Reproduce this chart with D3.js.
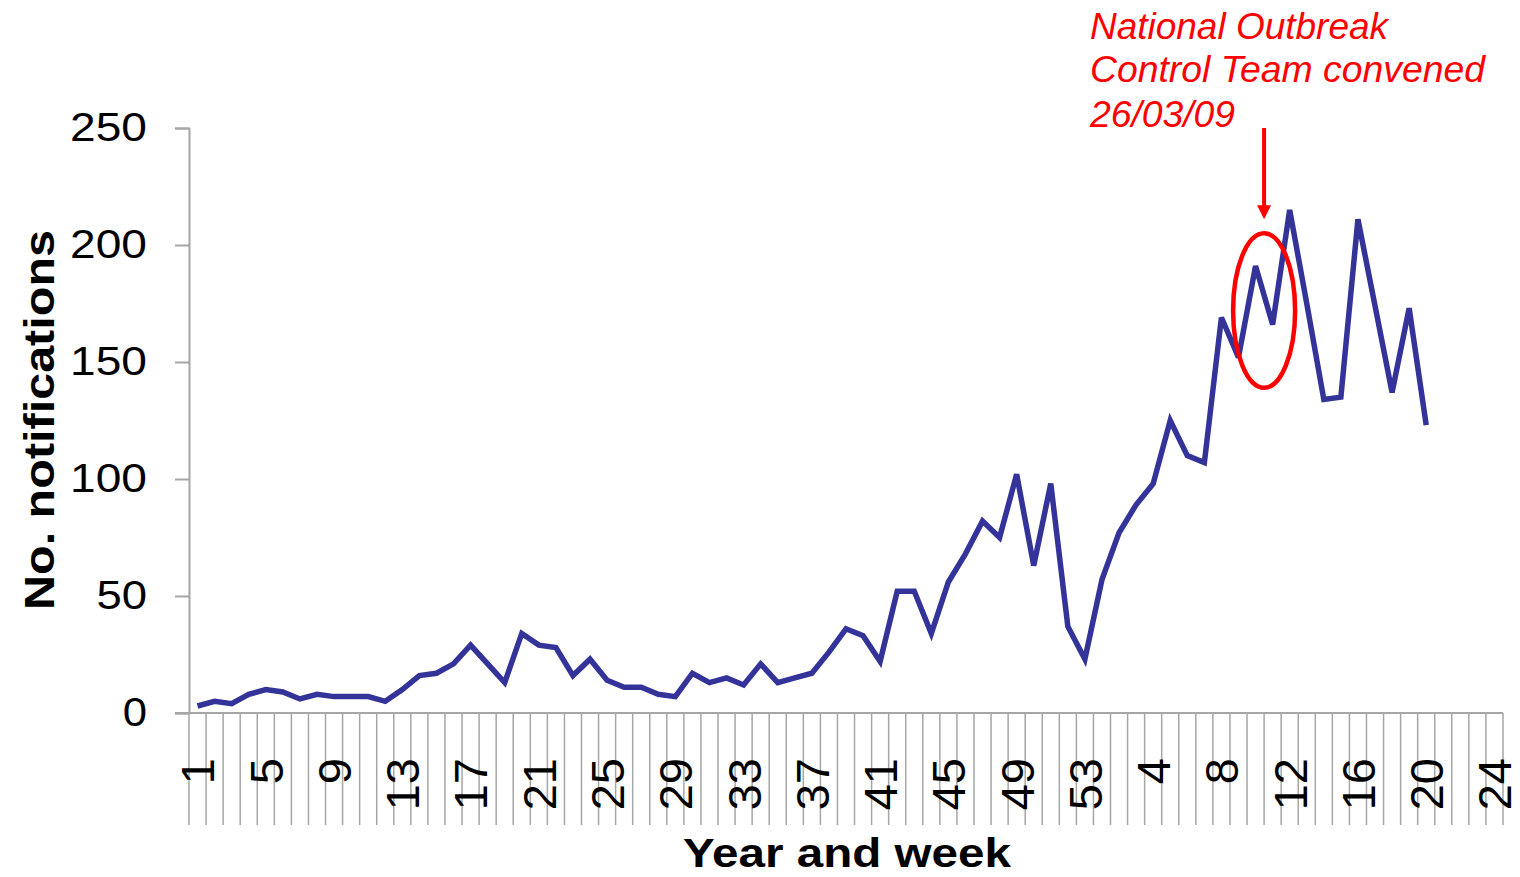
<!DOCTYPE html>
<html>
<head>
<meta charset="utf-8">
<script src="https://cdn.jsdelivr.net/npm/d3@7"></script>
<style>
  html, body { margin: 0; padding: 0; background: #fff; }
  svg { display: block; }
  text { font-family: Arial, "Liberation Sans", Helvetica, sans-serif; }
</style>
</head>
<body>
<svg id="chart" width="1520" height="877"></svg>
<script>
// ---- data ----
const weeks2008 = [1,2,3,4,5,6,7,8,9,10,11,12,13,14,15,16,17,18,19,20,21,22,23,24,25,26,27,28,29,30,31,32,33,34,35,36,37,38,39,40,41,42,43,44,45,46,47,48,49,50,51,52,53];
const weeks2009 = [1,2,3,4,5,6,7,8,9,10,11,12,13,14,15,16,17,18,19,20,21,22,23,24];
const categories = weeks2008.map(w => "2008-" + w).concat(weeks2009.map(w => "2009-" + w));
const notifications = [3,5,4,8,10,9,6,8,7,7,7,5,10,16,17,21,29,21,13,34,29,28,16,23,14,11,11,8,7,17,13,15,12,21,13,15,17,26,36,33,22,52,52,34,56,68,82,75,102,63,98,37,23,
  57,77,89,98,125,110,107,169,152,191,166,215,175,134,135,211,174,137,173,123];
const tickCategories = ["2008-1","2008-5","2008-9","2008-13","2008-17","2008-21","2008-25","2008-29","2008-33","2008-37","2008-41","2008-45","2008-49","2008-53","2009-4","2009-8","2009-12","2009-16","2009-20","2009-24"];
const yTicks = [0,50,100,150,200,250];
const annotationLines = ["National Outbreak", "Control Team convened", "26/03/09"];
const highlightCategory = "2009-11";  // ellipse centred at start of this week's band
const highlightRange = [139, 205];
const arrowRange = [250, 211];

// ---- layout ----
const svg = d3.select("#chart");
const plotLeft = 189, plotRight = 1503, plotTop = 128, plotBottom = 713;
const x = d3.scaleBand().domain(categories).range([plotLeft, plotRight]).paddingInner(0).paddingOuter(0);
const y = d3.scaleLinear().domain([0, 250]).range([plotBottom, plotTop]);
const grey = "#a6a6a6";

// category separators below the axis
svg.append("g").selectAll("line")
  .data(categories.concat(["__end"]))
  .join("line")
  .attr("x1", (d, i) => plotLeft + i * x.bandwidth())
  .attr("x2", (d, i) => plotLeft + i * x.bandwidth())
  .attr("y1", plotBottom).attr("y2", 825)
  .attr("stroke", grey).attr("stroke-width", 1.5);

// x axis line
svg.append("line").attr("x1", 175).attr("x2", plotRight).attr("y1", plotBottom).attr("y2", plotBottom)
  .attr("stroke", grey).attr("stroke-width", 2);

// y axis
const yAxis = d3.axisLeft(y).tickValues(yTicks).tickSize(14).tickPadding(28).tickFormat(d3.format("d"));
const yg = svg.append("g").attr("transform", `translate(${plotLeft},0)`).call(yAxis);
yg.select(".domain").attr("stroke", grey).attr("stroke-width", 2);
yg.selectAll(".tick line").attr("stroke", grey).attr("stroke-width", 2);
yg.selectAll(".tick text")
  .attr("font-size", 41).attr("fill", "#000")
  .attr("font-family", "Arial, 'Liberation Sans', sans-serif")
  .attr("dy", null).attr("y", 12)
  .attr("textLength", d => String(d).length * 26.3 - 2)
  .attr("lengthAdjust", "spacingAndGlyphs");

// x tick labels (rotated)
svg.append("g").selectAll("text")
  .data(tickCategories)
  .join("text")
  .attr("transform", d => `translate(${x(d) + x.bandwidth() / 2},758) rotate(-90)`)
  .attr("text-anchor", "end")
  .attr("dy", "0.36em")
  .attr("font-size", 47)
  .attr("fill", "#000")
  .text(d => d.split("-")[1]);

// data line
const line = d3.line()
  .x((d, i) => x(categories[i]) + x.bandwidth() / 2)
  .y(d => y(d));
svg.append("path")
  .datum(notifications)
  .attr("d", line)
  .attr("fill", "none")
  .attr("stroke", "#333399")
  .attr("stroke-width", 5.5)
  .attr("stroke-linejoin", "miter")
  .attr("stroke-miterlimit", 3);

// axis titles
svg.append("text")
  .attr("transform", "translate(54,420) rotate(-90)")
  .attr("text-anchor", "middle")
  .attr("font-size", 43).attr("font-weight", "bold")
  .attr("textLength", 380).attr("lengthAdjust", "spacingAndGlyphs")
  .text("No. notifications");

svg.append("text")
  .attr("x", 847).attr("y", 867)
  .attr("text-anchor", "middle")
  .attr("font-size", 40).attr("font-weight", "bold")
  .attr("textLength", 328).attr("lengthAdjust", "spacingAndGlyphs")
  .text("Year and week");

// annotation
const red = "#ff0000";
const cx = x(highlightCategory);
const cyTop = y(highlightRange[1]), cyBot = y(highlightRange[0]);
svg.append("ellipse")
  .attr("cx", cx).attr("cy", (cyTop + cyBot) / 2)
  .attr("rx", 31).attr("ry", (cyBot - cyTop) / 2)
  .attr("fill", "none").attr("stroke", red).attr("stroke-width", 4.5);

const aTop = y(arrowRange[0]), aTip = y(arrowRange[1]);
svg.append("line")
  .attr("x1", cx).attr("x2", cx).attr("y1", aTop).attr("y2", aTip - 12)
  .attr("stroke", red).attr("stroke-width", 4);
svg.append("path")
  .attr("d", `M${cx - 7},${aTip - 14} L${cx + 7},${aTip - 14} L${cx},${aTip} Z`)
  .attr("fill", red);

const annWidths = [298, 395, 145];
const annBase = [39, 82, 127];
svg.append("g").selectAll("text")
  .data(annotationLines)
  .join("text")
  .attr("x", 1090)
  .attr("y", (d, i) => annBase[i])
  .attr("font-size", 36).attr("font-style", "italic")
  .attr("fill", red)
  .attr("textLength", (d, i) => annWidths[i]).attr("lengthAdjust", "spacingAndGlyphs")
  .text(d => d);
</script>
</body>
</html>
